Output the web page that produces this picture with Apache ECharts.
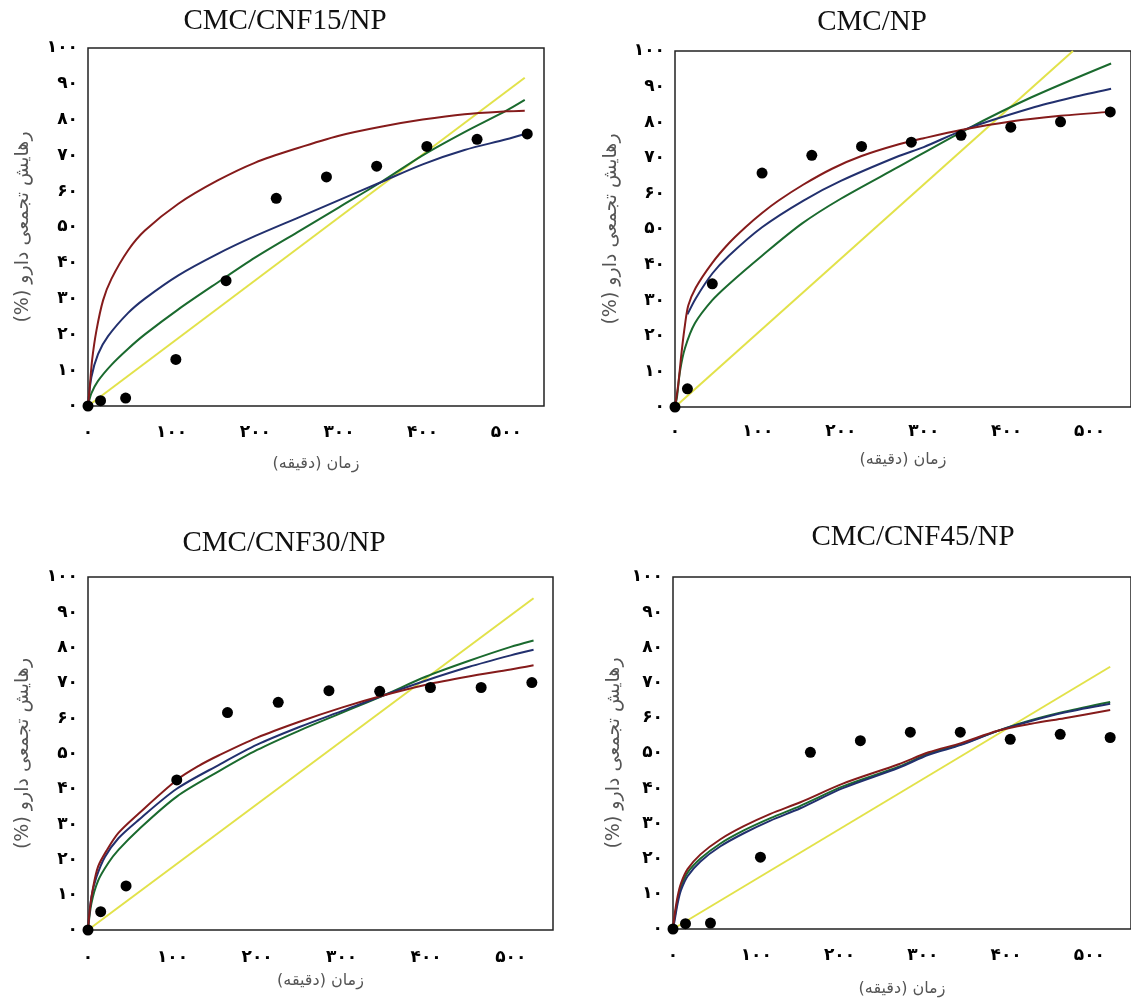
<!DOCTYPE html>
<html>
<head>
<meta charset="utf-8">
<title>release curves</title>
<script src="https://cdn.jsdelivr.net/npm/echarts@6/dist/echarts.min.js"></script>
<style>
html, body { margin: 0; padding: 0; background: #fff; }
#main { width: 1131px; height: 1005px; }
</style>
</head>
<body>
<div id="main"></div>
<script>
// sampling times of the measured release (min)
var releaseTimes = [0, 15, 45, 105, 165, 225, 285, 345, 405, 465, 525];

// measured cumulative release (%)
var cnf15Measured = [0, 1.5, 2.2, 13, 35, 58, 64, 67, 72.5, 74.5, 76];
var npMeasured    = [0, 5.1, 34.6, 65.7, 70.7, 73.2, 74.4, 76.3, 78.6, 80.1, 82.9];
var cnf30Measured = [0, 5.2, 12.5, 42.5, 61.6, 64.5, 67.8, 67.6, 68.7, 68.7, 70.1];
var cnf45Measured = [0, 1.5, 1.7, 20.4, 50.2, 53.5, 55.9, 55.9, 53.9, 55.3, 54.4];

// fitted curves as [time, release]
var cnf15Red = [[0,0],[2,5],[5,13],[10,21],[18,29.5],[28,35.5],[48,43.5],[68,49],[108,56.5],[155,63],[200,68],[250,72],[300,75.5],[350,78],[400,80],[450,81.5],[500,82.3],[522,82.5]];
var cnf15Blue = [[0,0],[4,8],[12,14.5],[24,19.5],[48,26],[68,30],[108,36.5],[155,42.5],[200,47.5],[250,52.5],[300,57.5],[350,62.5],[400,67.5],[450,71.5],[500,74.5],[522,76]];
var cnf15Green = [[0,0],[4,3.5],[12,7],[28,11.5],[48,16],[68,20],[108,27],[155,34.5],[200,41.5],[250,48.5],[300,55.5],[350,62.5],[400,70],[450,76.5],[500,82.5],[522,85.5]];
var cnf15Yellow = [[0,0],[522,91.7]];

var npRed = [[0,0],[4,6.5],[8,15.5],[12,23],[16,28.5],[25,33.5],[45,40.5],[65,46],[85,50.5],[105,54.5],[125,58],[155,62.5],[190,67],[225,70.5],[270,73.8],[300,75.5],[345,77.8],[405,80.2],[465,81.8],[525,82.9]];
var npBlue = [[15,26],[25,30.5],[45,37.5],[65,42.5],[105,50.5],[155,58],[200,63.5],[270,70.5],[300,73],[350,78],[430,84],[480,87],[526,89.4]];
var npGreen = [[0,0],[2.5,3],[6,10],[12,16.5],[24,23.5],[45,30],[65,34.5],[105,42.5],[153,51.5],[200,58.5],[270,67.5],[350,77.8],[430,87],[526,96.5]];
var npYellow = [[0,0],[480,100]];

var cnf30Red = [[0,0],[2,5.5],[6,12],[12,18],[22,22.5],[36,27.5],[60,33],[105,42.5],[131,46.5],[155,49.5],[200,54.5],[250,59],[300,63],[350,66.5],[400,69.5],[450,71.8],[500,73.8],[527,75]];
var cnf30Blue = [[0,0],[4,9.3],[10,15],[20,20.7],[36,26],[60,31.2],[105,40],[155,46.8],[200,52.5],[250,57.5],[300,62],[350,66.5],[400,70.7],[450,74.5],[500,77.8],[527,79.4]];
var cnf30Green = [[0,0],[4,7.5],[12,14],[24,19],[36,22.7],[60,28.5],[105,37.8],[155,45],[200,51],[250,56.5],[300,61.5],[350,66.5],[400,71.8],[450,76.2],[500,80.2],[527,82]];
var cnf30Yellow = [[0,0],[527,94]];

var cnf45Red = [[0,0],[1.6,3.5],[5.6,9.3],[9.6,13],[17.5,17],[33,21.2],[57,25.5],[85,29.2],[117,32.7],[153,36],[204,41.3],[271,46.8],[307,50.2],[346,52.8],[390,56.3],[430,58.3],[470,59.9],[525,62.2]];
var cnf45Blue = [[0,0],[1.6,2],[5.6,7.3],[9.6,11],[17.5,15],[33,19.2],[57,23.5],[85,27.2],[117,30.8],[153,34.3],[204,40],[271,45.8],[307,49.5],[346,52.3],[390,56.3],[430,59.1],[470,61.5],[525,64]];
var cnf45Green = [[0,0],[1.6,2.7],[5.6,8.3],[9.6,12],[17.5,16],[33,20],[57,24.3],[85,28],[117,31.5],[153,35],[204,40.5],[271,46.1],[307,49.8],[346,52.5],[390,56.3],[430,59.3],[470,61.7],[525,64.5]];
var cnf45Yellow = [[0,0],[525,74.5]];

var panelTitles = ['CMC/CNF15/NP', 'CMC/NP', 'CMC/CNF30/NP', 'CMC/CNF45/NP'];
var xAxisName = '\u202Bزمان (دقیقه)\u202C';
var yAxisName = '\u202Bرهایش تجمعی دارو (%)\u202C';
var persianDigits = ['۰','۱','۲','۳','۴','۵','۶','۷','۸','۹'];

var fitColors = {
	yellow: '#e2e24a',
	green: '#1a6a2e',
	blue: '#22306e',
	red: '#851b1b'
};

function toPersian(v){
	return String(v).replace(/[0-9]/g, function(d){ return persianDigits[d]; });
}

// layout of the four boxes
var panels = [
	{measured: cnf15Measured, fits: {yellow: cnf15Yellow, green: cnf15Green, blue: cnf15Blue, red: cnf15Red},
	 xMax: 545, grid: {left: 88, top: 48, width: 456, height: 358}, title: [285, 21],
	 labelGap: 18, xNameGap: 50, yNameGap: 55},
	{measured: npMeasured, fits: {yellow: npYellow, green: npGreen, blue: npBlue, red: npRed},
	 xMax: 550, grid: {left: 675, top: 51, width: 458, height: 356}, title: [872, 22],
	 labelGap: 16, xNameGap: 45, yNameGap: 54},
	{measured: cnf30Measured, fits: {yellow: cnf30Yellow, green: cnf30Green, blue: cnf30Blue, red: cnf30Red},
	 xMax: 550, grid: {left: 88, top: 577, width: 465, height: 353}, title: [284, 543],
	 labelGap: 19, xNameGap: 43, yNameGap: 55},
	{measured: cnf45Measured, fits: {yellow: cnf45Yellow, green: cnf45Green, blue: cnf45Blue, red: cnf45Red},
	 xMax: 550, grid: {left: 673, top: 577, width: 461, height: 352}, title: [913, 537],
	 labelGap: 18, xNameGap: 52, yNameGap: 49}
];

var myChart = echarts.init(document.getElementById('main'));

var titles = [], grids = [], xAxes = [], yAxes = [], series = [];
var labelStyle = {
	color: '#000',
	fontSize: 17,
	fontWeight: 'bold',
	fontFamily: 'DejaVu Sans'
};
var xNameStyle = {
	color: '#555',
	fontSize: 16,
	fontFamily: 'DejaVu Sans'
};
var yNameStyle = {
	color: '#555',
	fontSize: 19,
	fontFamily: 'DejaVu Sans'
};

for (var i = 0; i < panels.length; i++) {
	var p = panels[i];
	titles.push({
		text: panelTitles[i],
		left: p.title[0],
		top: p.title[1],
		padding: 0,
		textAlign: 'center',
		textVerticalAlign: 'middle',
		textStyle: {
			fontFamily: 'Liberation Serif',
			fontSize: 29,
			fontWeight: 'normal',
			color: '#111'
		}
	});
	grids.push({
		left: p.grid.left,
		top: p.grid.top,
		width: p.grid.width,
		height: p.grid.height,
		show: true,
		borderColor: '#222',
		borderWidth: 1.5,
		backgroundColor: 'transparent'
	});
	xAxes.push({
		gridIndex: i,
		type: 'value',
		min: 0,
		max: p.xMax,
		interval: 100,
		name: xAxisName,
		nameLocation: 'middle',
		nameGap: p.xNameGap,
		nameTextStyle: xNameStyle,
		axisLine: {show: false},
		axisTick: {show: false},
		splitLine: {show: false},
		axisLabel: Object.assign({
			margin: p.labelGap,
			showMaxLabel: false,
			formatter: toPersian
		}, labelStyle)
	});
	yAxes.push({
		gridIndex: i,
		type: 'value',
		min: 0,
		max: 100,
		interval: 10,
		name: yAxisName,
		nameLocation: 'middle',
		nameRotate: 90,
		nameGap: p.yNameGap,
		nameTextStyle: yNameStyle,
		axisLine: {show: false},
		axisTick: {show: false},
		splitLine: {show: false},
		axisLabel: Object.assign({
			margin: 10,
			formatter: toPersian
		}, labelStyle)
	});
	['yellow', 'green', 'blue', 'red'].forEach(function(key){
		series.push({
			type: 'line',
			xAxisIndex: i,
			yAxisIndex: i,
			data: p.fits[key],
			smooth: 0.3,
			showSymbol: false,
			silent: true,
			clip: true,
			lineStyle: {color: fitColors[key], width: 2}
		});
	});
	series.push({
		type: 'scatter',
		xAxisIndex: i,
		yAxisIndex: i,
		symbolSize: 11,
		itemStyle: {color: '#000', opacity: 1},
		data: releaseTimes.map(function(t, k){ return [t, p.measured[k]]; }),
		z: 5
	});
}

var option = {
	backgroundColor: '#fff',
	animation: false,
	title: titles,
	grid: grids,
	xAxis: xAxes,
	yAxis: yAxes,
	series: series
};
myChart.setOption(option);
</script>
</body>
</html>
